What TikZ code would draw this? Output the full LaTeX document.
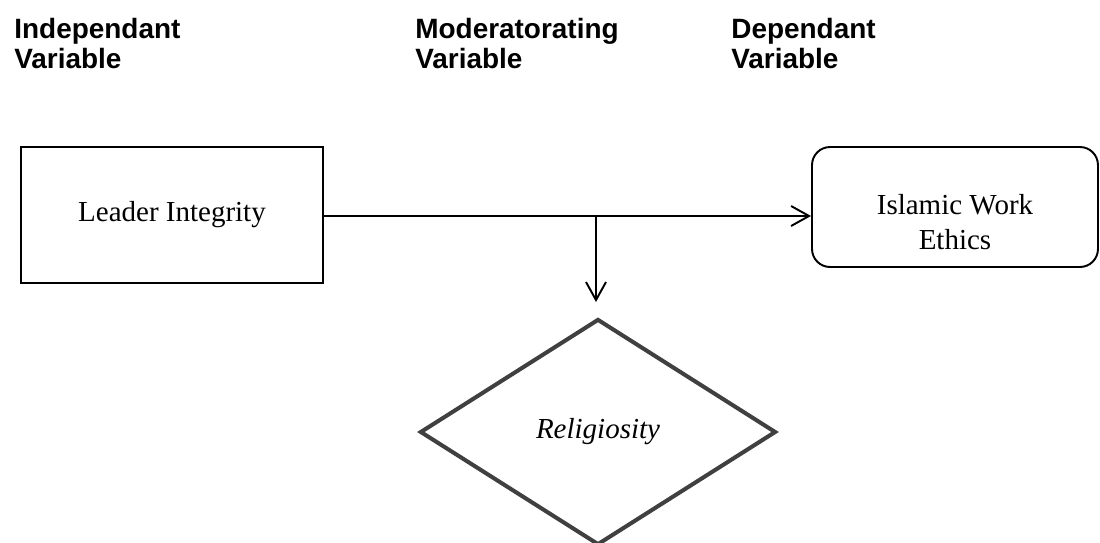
\documentclass[tikz,border=0pt]{standalone}
\usepackage{fontspec}
\setmainfont{Liberation Serif}
\newfontfamily\headfont{Liberation Sans}
\usetikzlibrary{shapes,arrows.meta,calc}
\tikzstyle{line} = [draw, line width=1.1pt, -{Straight Barb[length=0.36cm, width=0.4cm, line width=1.1pt]}]
\tikzstyle{heading} = [anchor=north west, inner sep=0pt, align=left, font=\headfont\bfseries\fontsize{15.9}{16.8}\selectfont]
\tikzstyle{block} = [draw, line width=1.1pt, rectangle, text centered, minimum width=6.04cm, minimum height=2.72cm, font=\fontsize{16.5}{16}\selectfont]
\tikzstyle{cloud} = [draw, line width=1.1pt, rectangle, rounded corners=0.36cm, minimum width=5.72cm, minimum height=2.4cm]
\tikzstyle{cloudtext} = [align=center, yshift=-0.3cm, font=\fontsize{16.5}{19.9}\selectfont]
\tikzstyle{decision} = [draw=black!75, line width=2.3pt, diamond, inner sep=0pt, minimum width=7.12cm, minimum height=4.52cm, font=\itshape\fontsize{16.5}{16}\selectfont]

\begin{document}
\begin{tikzpicture}[x=0.02cm, y=-0.02cm, auto]
        \useasboundingbox (0,0) rectangle (1100,542);
        \node[heading] (indep) at (14,18) {Independant\\Variable};
        \node[heading] (moder) at (415,18) {Moderatorating\\Variable};
        \node[heading] (dep) at (731,18) {Dependant\\Variable};
        \node[block] (leader) at (172,215) {Leader Integrity};
        \node[cloud, label={[cloudtext]center:{Islamic Work\\Ethics}}] (ethics) at (955,207) {};
        \node[decision] (relig) at (598,432) {Religiosity};
        \coordinate (split) at (596,216);
        \path[line] (leader.east |- split) -- (ethics.west |- split);
        \path[line, shorten >=0.3cm] (split) -- (split |- relig.north);
    \end{tikzpicture}
\end{document}
